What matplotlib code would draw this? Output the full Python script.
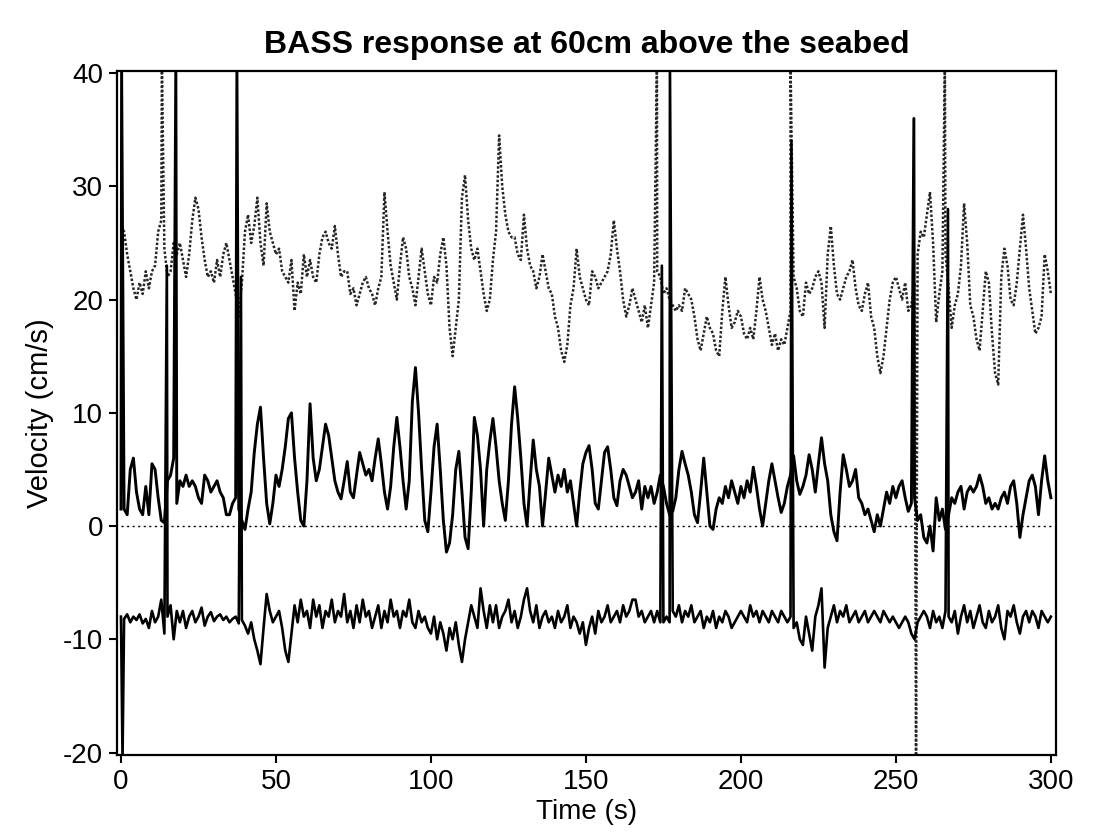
import numpy as np
import matplotlib
matplotlib.use("Agg")
import matplotlib.pyplot as plt

plt.rcParams['font.family'] = ['Liberation Sans', 'DejaVu Sans']
plt.rcParams['axes.unicode_minus'] = False

# sample times (s), one reading per second
time = np.arange(0, 301)

# upper trace (dotted), cm/s
upper = [
    26.5, 26, 24, 22.5, 21, 20, 21.5, 20.5, 22.5, 21,
    22.5, 23, 26, 27, 24.5, 22, 22.5, 25, 24, 25,
    23.5, 22, 24, 27, 29, 28, 25.5, 23.5, 22, 22.5,
    21.5, 23.5, 22, 24, 25, 23.5, 22, 20.5, 18.5, 21.5,
    26, 27.5, 25, 26.5, 29, 25, 23, 28.5, 26, 25,
    24, 24.5, 22.5, 22, 21.5, 23.5, 19, 21.5, 20.5, 24,
    22, 23.5, 22, 21.5, 24, 25.5, 26, 25, 24.5, 26.5,
    24, 22, 22.5, 22.5, 20.5, 21, 19.5, 20.5, 21.5, 22,
    21, 20.5, 19.5, 21, 22, 29.5, 26, 23, 21.5, 20,
    23, 25.5, 24.5, 22, 21, 19.5, 22, 24.5, 22.5, 20.5,
    19.5, 22, 21.5, 24, 25.5, 23, 17.5, 15, 17.5, 20,
    29, 31, 27, 24.5, 23.5, 24.5, 22.5, 20.5, 19, 20,
    23.5, 26, 34.5, 30, 27.5, 26, 25.5, 25.5, 24, 23.5,
    27.5, 24.5, 23, 22.5, 21, 22, 24, 22.5, 21, 20.5,
    18.5, 17.5, 15.5, 14.5, 16, 19.5, 21, 24.5, 22, 21,
    20, 19.5, 22.5, 22, 21, 21.5, 22, 22.5, 24, 27,
    24.5, 22.5, 20, 18.5, 19.5, 21, 20, 19, 18, 19.5,
    17.5, 19.5, 21.5, 22.5, 22, 20.5, 21, 20, 19.5, 19,
    19.5, 19, 21, 20.5, 20, 18.5, 16.5, 15.5, 17, 18.5,
    17.5, 17, 15.5, 15, 19, 22, 19.5, 17.5, 18, 19,
    18.5, 17, 16.5, 17.5, 16.5, 19, 22, 20, 19, 17.5,
    16, 17, 15.5, 16.5, 16, 17.5, 19, 22, 21, 19,
    18.5, 21.5, 20.5, 21, 22, 22.5, 21.5, 17.5, 24, 26.5,
    23, 20.5, 20, 21, 22, 22.5, 23.5, 21, 19.5, 19,
    20.5, 21.5, 18.5, 17.5, 15, 13.5, 15, 17.5, 20, 21.5,
    22, 21, 20, 21.5, 19, 19.5, 21.5, 24, 26, 25.5,
    27.5, 29.5, 25, 18, 20.5, 22.5, 24, 21, 17.5, 19.5,
    20.5, 23, 28.5, 25, 19.5, 18.5, 16.5, 15.5, 19, 22.5,
    21.5, 17, 13.5, 12.5, 22, 24.5, 23, 20, 19.5, 21.5,
    24.5, 27.5, 24.5, 21, 19, 17, 17.5, 18.5, 24, 22.5,
    20.5,
]

# middle trace (solid), cm/s
middle = [
    1.5, 1.5, 1, 5, 6, 3, 1.5, 1, 3.5, 1,
    5.5, 5, 2.5, 0.5, 0.3, 4, 4.5, 6, 2, 4,
    3.5, 4.5, 3.5, 4, 3.5, 2.5, 2, 4.5, 4, 3,
    3.5, 4, 3, 2.5, 1, 1, 2, 2.5, 1.5, 0.5,
    -0.3, 1.5, 3, 6.5, 9, 10.5, 6, 2, 0.2, 2,
    4.5, 3.5, 5, 7, 9.5, 10, 6, 3, 0.5, 0,
    4, 10.8, 6, 4, 5, 7, 9, 8, 6, 4,
    3, 2.4, 4, 5.7, 3, 2.5, 4.5, 6.5, 5.5, 4.5,
    5, 4, 6, 7.7, 5.5, 3, 1.5, 3.5, 7, 9.6,
    7, 4, 1.5, 4, 11, 14, 10, 5, 0.5, -0.5,
    3, 7, 9, 5, 0.5, -2.3, -1.5, 1, 5, 6.6,
    3, -1, -2, 3, 9.6, 8, 5, 0, 5, 7.5,
    9.5, 7, 4, 2, 0.5, 4, 9, 12.3, 9.5, 6,
    2, 0, 4, 7.6, 5, 3.5, 0, 3, 6, 4.5,
    3, 4.5, 3.5, 5, 3, 4, 2, 0, 3, 5.5,
    6.5, 7.1, 5, 2, 1.5, 4, 6.5, 7, 5, 2.5,
    1.8, 4, 5, 4.5, 3.5, 2.5, 3, 4, 1.5, 3.5,
    2.5, 3.5, 2, 3, 4.5, 3.5, 2, 1, 1.3, 2.5,
    5, 6.6, 5.5, 4.5, 3, 1, 0.3, 3, 6, 3,
    0, -0.3, 1.5, 2.5, 2, 3.5, 2.5, 4, 3, 2,
    3.5, 2.5, 4, 3, 5.2, 3.5, 1.5, 0, 2, 4,
    5.5, 4, 2.5, 1.2, 2, 3.5, 4.5, 6.2, 4, 2.8,
    3.5, 4.5, 6.3, 5, 3, 5.5, 7.8, 5.5, 4, 1,
    -0.5, -1.3, 3, 6.3, 5, 3.5, 4, 5, 2.5, 2,
    1, 1.5, 0.5, -0.5, 1, 0, 1.5, 3, 2, 3.5,
    2.5, 3.5, 4, 2.5, 1.3, 2, 2.5, 0.5, 1, -1,
    -1.5, 0, -2.2, 2.5, 0.5, 1.5, -0.3, 1, 2.5, 2,
    3, 3.5, 1.5, 3, 3.5, 3, 3.5, 4.5, 3.5, 2,
    2.5, 1.5, 2, 1.5, 2.5, 3, 2, 3.5, 4, 2,
    -1, 1, 2.5, 4, 4.5, 3.5, 1, 4, 6.2, 4,
    2.5,
]

# lower trace (solid), cm/s
lower = [
    -8, -8.2, -7.8, -8.5, -8, -8.3, -7.8, -8.6, -8.2, -9,
    -7.5, -8.5, -8, -6.5, -9.5, -8, -7, -10, -7.5, -8.5,
    -7.5, -9, -8, -7.5, -8.5, -8, -7.2, -8.8, -8, -7.6,
    -8.4, -8, -7.8, -8.3, -8, -8.5, -8.2, -8, -8.6, -8.3,
    -8.8, -9.5, -8.5, -10, -11, -12.2, -9, -6, -7.5, -8.5,
    -8, -7.5, -9, -11, -12, -9.5, -7, -8.5, -6.5, -8,
    -7.5, -9, -6.5, -8, -7, -9, -7.5, -8, -6.5, -8.5,
    -7.5, -8, -6, -8.5, -7.5, -9, -7, -8.5, -6.5, -8,
    -7.5, -9, -8, -7, -9, -7.5, -8.5, -6.5, -8, -7.5,
    -9, -7.5, -8, -6.5, -8.5, -9, -7.5, -8.5, -8, -9,
    -9.5, -8, -10, -8.5, -9.5, -11, -9, -10, -8.5, -10.5,
    -12, -10, -8.5, -7, -8, -9, -5.5, -7.5, -9, -7,
    -8.5, -7, -9, -8, -7.5, -6.5, -8.5, -7.5, -9, -8,
    -6.5, -5.5, -7.5, -8.5, -7, -9, -8, -7.5, -8.5, -8,
    -9, -7.5, -8.5, -8, -7, -9, -8, -8.5, -9.5, -8.5,
    -10.5, -9, -8, -9.5, -7.5, -8.5, -8, -7, -8.5, -8,
    -7.5, -8.5, -7, -8, -7.5, -6.5, -6.5, -8, -7.5, -8.5,
    -8, -7.5, -8.5, -7.5, -8.5, -8.5, -8, -8.5, -7.5, -8,
    -7, -8.5, -7.5, -8, -7, -8.5, -8, -7.5, -9, -8,
    -8.5, -7.5, -9, -8, -8.5, -7.5, -8, -9, -8.5, -8,
    -7.5, -8, -8.5, -7, -8, -7.5, -8.5, -7.5, -8, -8.5,
    -7.5, -8, -8.5, -7.5, -8, -8.5, -8, -9, -8.5, -10,
    -10.5, -8, -9.5, -11, -8, -7, -5.5, -12.5, -9, -8,
    -7, -8.5, -7.5, -8, -7, -8.5, -8, -7.5, -8.5, -8,
    -7.5, -8.5, -8, -7.5, -8, -8.5, -7.5, -8, -8.5, -8,
    -8.5, -9, -8.5, -8, -8.5, -9.5, -10, -8.5, -8, -7.5,
    -8, -9, -7.5, -8.5, -8, -9, -7.5, -8, -8.5, -7.5,
    -9.5, -8, -7, -8.5, -7.5, -9, -8, -7, -8.5, -9,
    -7.5, -8.5, -8, -7, -9, -10, -7.5, -8, -7, -8.5,
    -9.5, -8, -7.5, -8.5, -7.5, -8, -9, -7.5, -8, -8.5,
    -8,
]

# single-sample dropouts (spikes) in each trace
upper_spike_t = [13.2, 172.9, 216.0, 256.5, 265.8]
upper_spike_v = [41, 41, 41, -20.5, 41]
middle_spike_t = [0.2, 17.7, 37.4, 255.8]
middle_spike_v = [40.5, 41, 41, 36]
lower_spike_t = [0.5, 14.8, 38.7, 174.5, 177.1, 216.3, 266.8]
lower_spike_v = [-20.5, 23, 22, 23, 41, 34, 28]


def with_spikes(values, spike_t, spike_v):
    t = np.concatenate([time, spike_t])
    v = np.concatenate([values, spike_v])
    order = np.argsort(t, kind='stable')
    return t[order], v[order]


fig = plt.figure(figsize=(10.93, 8.34), dpi=100)
ax = fig.add_axes([0.107, 0.095, 0.859, 0.820])

ax.plot([0, 300], [0, 0], color='black', lw=1.0, ls=(0, (1.5, 2.5)))

t, v = with_spikes(upper, upper_spike_t, upper_spike_v)
ax.plot(t, v, color='0.15', lw=1.8, ls=(0, (1, 0.8)))
t, v = with_spikes(middle, middle_spike_t, middle_spike_v)
ax.plot(t, v, color='black', lw=2.1)
t, v = with_spikes(lower, lower_spike_t, lower_spike_v)
ax.plot(t, v, color='black', lw=1.9)

ax.set_xlim(-1.3, 301.6)
ax.set_ylim(-20.2, 40.2)
ax.set_xticks([0, 50, 100, 150, 200, 250, 300])
ax.set_yticks([-20, -10, 0, 10, 20, 30, 40])
ax.tick_params(direction='out', length=6, width=1.5, labelsize=20, pad=4)
for s in ax.spines.values():
    s.set_linewidth(1.6)

ax.set_xlabel('Time (s)', fontsize=20, labelpad=3)
ax.set_ylabel('Velocity (cm/s)', fontsize=21, labelpad=6)
ax.set_title('BASS response at 60cm above the seabed', fontsize=23,
             fontweight='bold', pad=13)

fig.savefig('out.png', dpi=100)
